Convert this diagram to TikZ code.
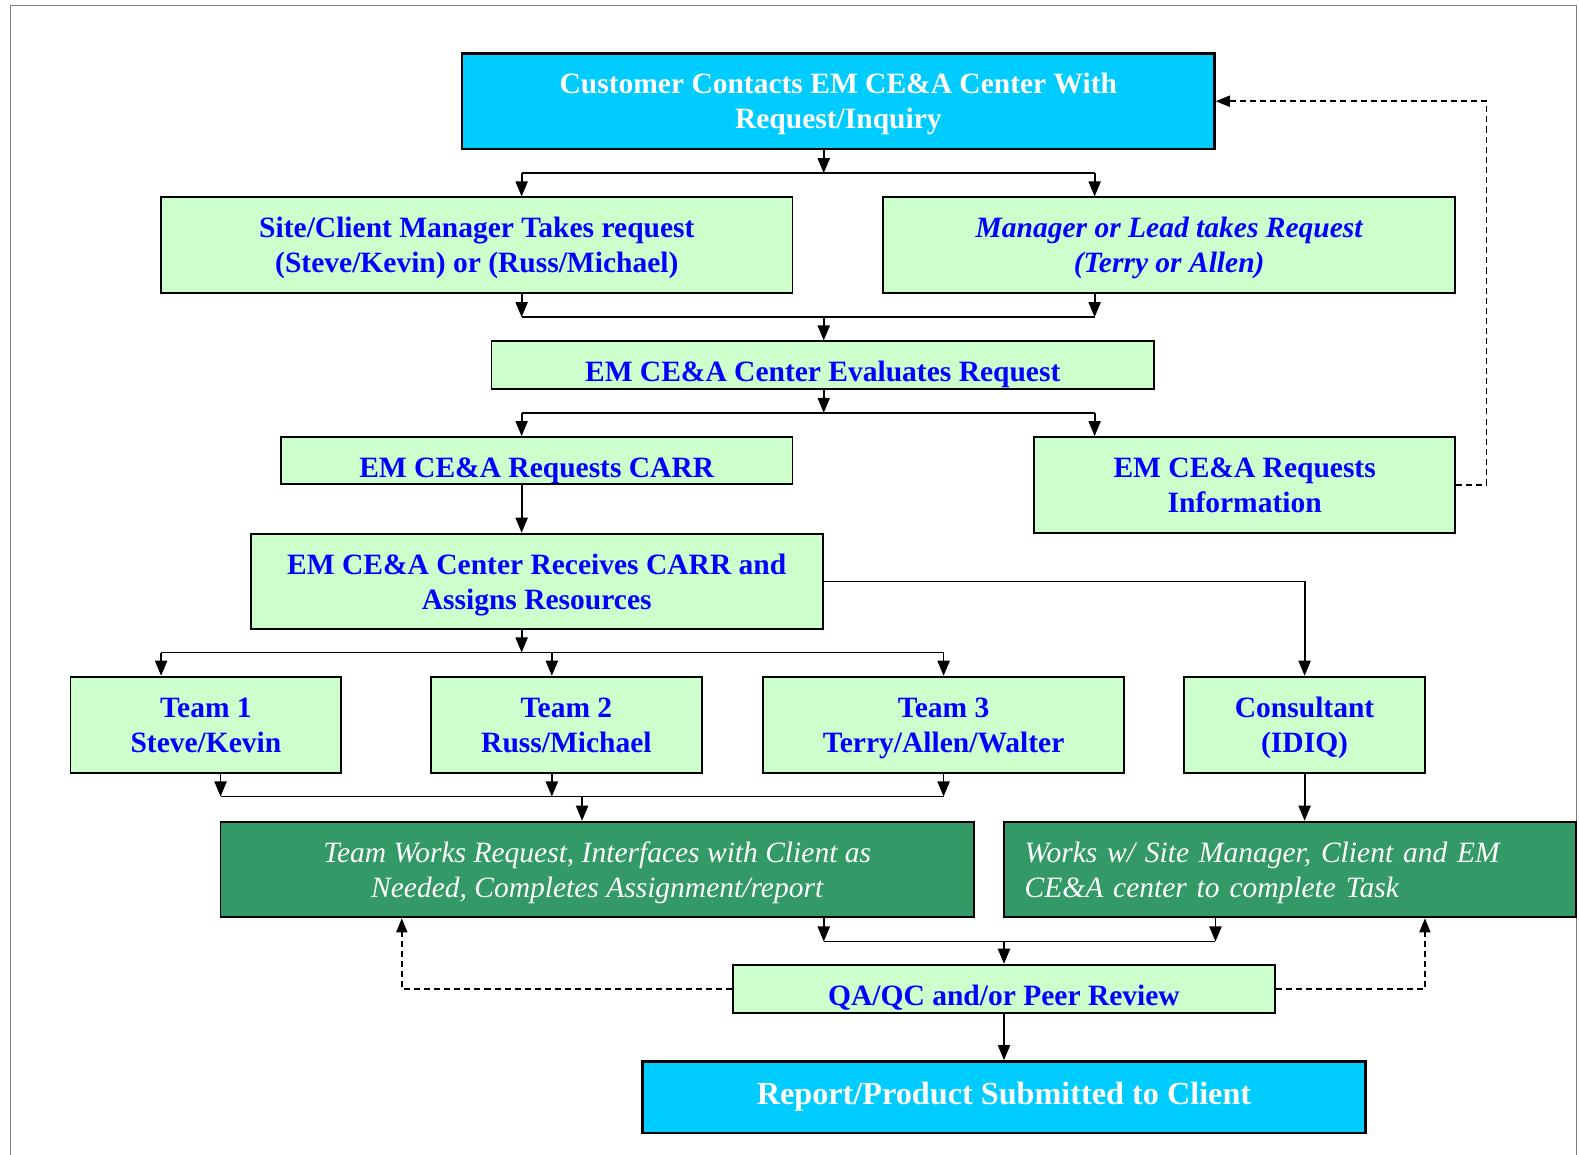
\documentclass[tikz,border=0pt]{standalone}
\usepackage{fontspec}
\setmainfont{Liberation Serif}
\usetikzlibrary{arrows.meta}
\definecolor{cyanbox}{HTML}{00CCFF}
\definecolor{lightgreen}{HTML}{CCFFCC}
\definecolor{darkgreen}{HTML}{339966}
\definecolor{bluetext}{HTML}{0000FF}
\newcommand\mystrut{\rule[-7pt]{0pt}{34pt}}
\begin{document}
\begin{tikzpicture}[x=1pt,y=-1pt,
  base/.style={draw=black,line width=1.8pt,inner sep=0pt,align=center,
    font=\fontsize{29.3}{35}\selectfont},
  cyanbox/.style={base,fill=cyanbox,text=white,font=\fontsize{29.3}{35}\selectfont\bfseries,line width=2.4pt},
  greenbox/.style={base,fill=lightgreen,text=bluetext,font=\fontsize{29.3}{35}\selectfont\bfseries},
  darkbox/.style={base,fill=darkgreen,text=white,font=\fontsize{29.3}{35}\selectfont\itshape},
  oneline/.style={text height=33pt,text depth=0pt},
  arr/.style={line width=1.8pt,-{Triangle[length=15pt,width=12pt]}},
  ln/.style={line width=1.8pt},
  dasharr/.style={line width=1.5pt,dash pattern=on 6pt off 4pt,-{Triangle[length=14pt,width=11pt]}}]
\useasboundingbox (0,0) rectangle (1568,1146);
\draw[gray,line width=0.6pt] (10,1160) -- (10,5) -- (1565,5) -- (1565,1160);

\node[cyanbox,minimum width=747pt,minimum height=95pt] (top) at (832.5,100.5)
  {\mystrut Customer Contacts EM CE\&A Center With\\\mystrut Request/Inquiry};
\node[greenbox,minimum width=627pt,minimum height=95pt] (site) at (473.5,243.5)
  {\mystrut Site/Client Manager Takes request\\\mystrut (Steve/Kevin) or (Russ/Michael)};
\node[greenbox,minimum width=568pt,minimum height=95pt,font=\fontsize{29.3}{35}\selectfont\bfseries\itshape] (mgr) at (1161,243.5)
  {\mystrut Manager or Lead takes Request\\\mystrut (Terry or Allen)};
\node[greenbox,oneline,minimum width=658pt,minimum height=47pt] (eval) at (817,362.5)
  {EM CE\&A Center Evaluates Request};
\node[greenbox,oneline,minimum width=508pt,minimum height=47pt] (carr) at (533,457.5)
  {EM CE\&A Requests CARR};
\node[greenbox,minimum width=418pt,minimum height=95pt] (info) at (1236,481.5)
  {\mystrut EM CE\&A Requests\\\mystrut Information};
\node[greenbox,minimum width=568pt,minimum height=95pt] (recv) at (533,577.5)
  {\mystrut EM CE\&A Center Receives CARR and\\\mystrut Assigns Resources};
\node[greenbox,minimum width=269pt,minimum height=96pt] (t1) at (204.5,720)
  {\mystrut Team 1\\\mystrut Steve/Kevin};
\node[greenbox,minimum width=269pt,minimum height=96pt] (t2) at (562.5,720)
  {\mystrut Team 2\\\mystrut Russ/Michael};
\node[greenbox,minimum width=358pt,minimum height=96pt] (t3) at (937,720)
  {\mystrut Team 3\\\mystrut Terry/Allen/Walter};
\node[greenbox,minimum width=239pt,minimum height=96pt] (cons) at (1295.5,720)
  {\mystrut Consultant\\\mystrut (IDIQ)};
\node[darkbox,minimum width=748pt,minimum height=95pt] (tw) at (593,863.5)
  {\mystrut Team Works Request, Interfaces with Client as\\\mystrut Needed, Completes Assignment/report};
\node[darkbox,minimum width=568pt,minimum height=95pt,align=left,text width=527pt] (ww) at (1281,863.5)
  {\mystrut Works w/ Site Manager, Client and EM\\\mystrut CE\&A center to complete Task};
\node[greenbox,oneline,minimum width=538pt,minimum height=48pt] (qa) at (997,982)
  {QA/QC and/or Peer Review};
\node[cyanbox,text height=15pt,text depth=0pt,minimum width=718pt,minimum height=71pt,
  font=\fontsize{32}{38}\selectfont\bfseries] (rep) at (997,1089.5)
  {Report/Product Submitted to Client};

% junctions
\coordinate (j1) at (818,172);
\coordinate (j2) at (818,315);
\coordinate (j3) at (818,410);
\coordinate (j4) at (518,648);
\coordinate (j5) at (578,791);
\coordinate (j6) at (997,935);

% top -> two managers
\draw[arr] (top.south -| j1) -- (j1);
\draw[ln] (518,172) -- (1087,172);
\draw[arr] (518,172) -- (518,172 |- site.north);
\draw[arr] (1087,172) -- (1087,172 |- mgr.north);

% managers -> evaluate
\draw[arr] (518,0 |- site.south) -- (518,315);
\draw[arr] (1087,0 |- mgr.south) -- (1087,315);
\draw[ln] (518,315) -- (1087,315);
\draw[arr] (j2) -- (j2 |- eval.north);

% evaluate -> carr / info
\draw[arr] (eval.south -| j3) -- (j3);
\draw[ln] (518,410) -- (1087,410);
\draw[arr] (518,410) -- (518,0 |- carr.north);
\draw[arr] (1087,410) -- (1087,0 |- info.north);

% carr -> receives
\draw[arr] (518,0 |- carr.south) -- (518,0 |- recv.north);

% receives -> consultant
\draw[arr] (recv.east) -| (cons.north);

% receives -> teams
\draw[arr] (j4 |- recv.south) -- (j4);
\draw[ln] (160,648) -- (937,648);
\draw[arr] (160,648) -- (160,0 |- t1.north);
\draw[arr] (548,648) -- (548,0 |- t2.north);
\draw[arr] (937,648) -- (937,0 |- t3.north);

% teams -> team works
\draw[arr] (219,0 |- t1.south) -- (219,791);
\draw[arr] (548,0 |- t2.south) -- (548,791);
\draw[arr] (937,0 |- t3.south) -- (937,791);
\draw[ln] (219,791) -- (937,791);
\draw[arr] (j5) -- (j5 |- tw.north);

% consultant -> works w/
\draw[arr] (cons.south) -- (cons.south |- ww.north);

% works -> QA
\draw[arr] (818,0 |- tw.south) -- (818,935);
\draw[arr] (1207,0 |- ww.south) -- (1207,935);
\draw[ln] (818,935) -- (1207,935);
\draw[arr] (j6) -- (j6 |- qa.north);

% QA -> report
\draw[arr] (qa.south) -- (rep.north);

% dashed feedback
\draw[dasharr] (qa.west) -| (399,0 |- tw.south);
\draw[dasharr] (qa.east) -| (1415,0 |- ww.south);
\draw[dasharr] (info.east) -- (1476,0 |- info.east) |- (top.east);
\end{tikzpicture}
\end{document}
